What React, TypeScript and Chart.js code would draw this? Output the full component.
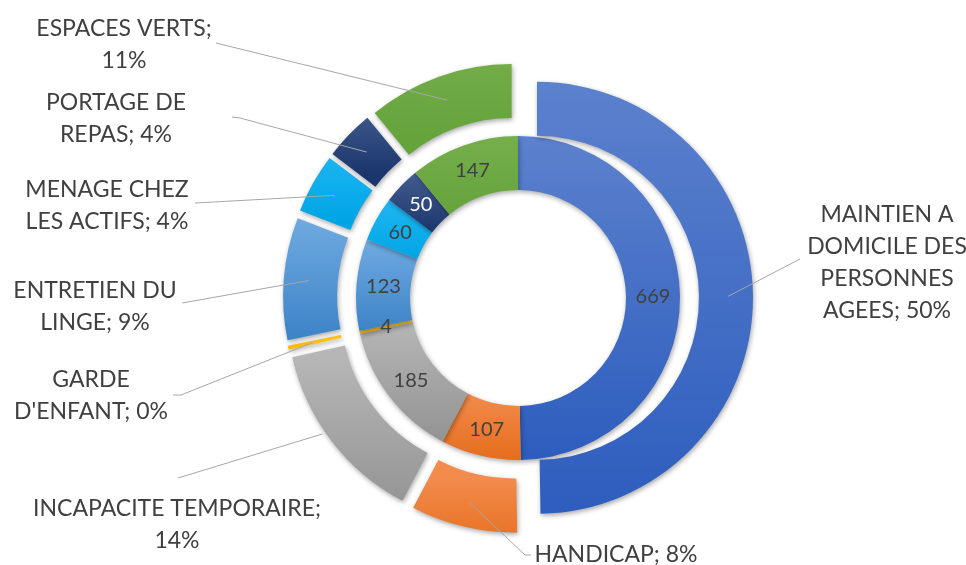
import { useEffect, useRef } from "react";
import { Chart, registerables } from "chart.js";

Chart.register(...registerables);

// ---------- data ----------
const categories = [
  "MAINTIEN A DOMICILE DES PERSONNES AGEES",
  "HANDICAP",
  "INCAPACITE TEMPORAIRE",
  "GARDE D'ENFANT",
  "ENTRETIEN DU LINGE",
  "MENAGE CHEZ LES ACTIFS",
  "PORTAGE DE REPAS",
  "ESPACES VERTS",
];
const values = [669, 107, 185, 4, 123, 60, 50, 147];

// ---------- styles ----------
const colorsTop = ["#5C81CD", "#F28B4C", "#B6B6B6", "#FFC313", "#70ABE1", "#1FB7F2", "#435D90", "#75AF4B"];
const colorsBottom = ["#2D5DBE", "#E66D1C", "#939393", "#F3B700", "#3D83C7", "#00A5E5", "#1B366C", "#65A33B"];
const valueColors = ["#404040", "#404040", "#404040", "#404040", "#404040", "#404040", "#FFFFFF", "#404040"];

const FONT = "Lato";
const TEXT_COLOR = "#404040";
const LEADER_COLOR = "#A6A6A6";
const OUTER_FONT_SIZE = 23;
const INNER_FONT_SIZE = 20;
const LINE_H = 32;
const EXPLODE = 19;
const RADIUS = 216;
const CUTOUT = 0.5;

// label layout (text centre x, first-line centre y, words per line, leader start points)
type LabelLayout = { x: number; y: number; words: number[]; line: number[][]; frac?: number; rad?: number };
const labelLayout: LabelLayout[] = [
  { x: 887, y: 215, words: [2, 2, 1, 2], line: [[800, 259]] },
  { x: 616, y: 555, words: [2], line: [[531, 555], [525, 555]] },
  { x: 177, y: 509, words: [2, 1], line: [[178, 478]], frac: 0.56, rad: 1.06 },
  { x: 91, y: 380, words: [1, 2], line: [[173, 395], [181, 395]] },
  { x: 95, y: 291, words: [2, 2], line: [[182, 303]] },
  { x: 107, y: 190, words: [2, 3], line: [[195, 203]] },
  { x: 116, y: 103, words: [2, 2], line: [[232, 117], [240, 118]] },
  { x: 124, y: 29, words: [2, 1], line: [[216, 43]] },
];

const total = values.reduce((a, b) => a + b, 0);

function sliceGradient(chart: any, datasetIndex: number, index: number) {
  const area = chart.chartArea;
  if (!area) return colorsTop[index];
  const cx = (area.left + area.right) / 2;
  const cy = (area.top + area.bottom) / 2;
  const before = values.slice(0, index).reduce((a, b) => a + b, 0);
  const a0 = -Math.PI / 2 + (2 * Math.PI * before) / total;
  const a1 = a0 + (2 * Math.PI * values[index]) / total;
  const ring = (RADIUS - RADIUS * CUTOUT) / 2;
  const rOut = datasetIndex === 0 ? RADIUS : RADIUS - ring;
  const rIn = rOut - ring;
  const shift = datasetIndex === 0 ? EXPLODE : 0;
  const mid = (a0 + a1) / 2;
  const oy = cy + Math.sin(mid) * shift;
  void cx;
  let ymin = Infinity;
  let ymax = -Infinity;
  for (let k = 0; k <= 60; k++) {
    const a = a0 + ((a1 - a0) * k) / 60;
    for (const r of [rIn, rOut]) {
      const y = oy + Math.sin(a) * r;
      ymin = Math.min(ymin, y);
      ymax = Math.max(ymax, y);
    }
  }
  if (ymax - ymin < 1) ymax = ymin + 1;
  const g = chart.ctx.createLinearGradient(0, ymin, 0, ymax);
  g.addColorStop(0, colorsTop[index]);
  g.addColorStop(1, colorsBottom[index]);
  return g;
}

const explodePlugin = {
  id: "explode",
  beforeDatasetsDraw(chart: any) {
    const ctx = chart.ctx;
    ctx.save();
    ctx.shadowColor = "rgba(0,0,0,0.35)";
    ctx.shadowBlur = 5;
    ctx.shadowOffsetX = 1;
    ctx.shadowOffsetY = 2;
  },
  beforeDatasetDraw(chart: any, args: any) {
    if (args.index !== 0) return;
    const ctx = chart.ctx;
    args.meta.data.forEach((el: any) => {
      const mid = (el.startAngle + el.endAngle) / 2;
      ctx.save();
      ctx.translate(Math.cos(mid) * EXPLODE, Math.sin(mid) * EXPLODE);
      el.draw(ctx);
      ctx.restore();
    });
    return false;
  },
  afterDatasetsDraw(chart: any) {
    chart.ctx.restore();
  },
};

const labelPlugin = {
  id: "sliceLabels",
  afterDraw(chart: any) {
    const ctx = chart.ctx;
    ctx.save();
    ctx.shadowColor = "transparent";
    // outer labels with leader lines
    const outer = chart.getDatasetMeta(0);
    outer.data.forEach((el: any, i: number) => {
      const L = labelLayout[i];
      const frac = L.frac ?? 0.5;
      const rf = L.rad ?? 0.54;
      const mid = (el.startAngle + el.endAngle) / 2;
      const a = el.startAngle + (el.endAngle - el.startAngle) * frac;
      const ox = el.x + Math.cos(mid) * EXPLODE;
      const oy = el.y + Math.sin(mid) * EXPLODE;
      const r = el.innerRadius + (el.outerRadius - el.innerRadius) * rf;
      const ax = ox + Math.cos(a) * r;
      const ay = oy + Math.sin(a) * r;
      ctx.strokeStyle = LEADER_COLOR;
      ctx.lineWidth = 1;
      ctx.beginPath();
      ctx.moveTo(L.line[0][0], L.line[0][1]);
      for (let k = 1; k < L.line.length; k++) ctx.lineTo(L.line[k][0], L.line[k][1]);
      ctx.lineTo(ax, ay);
      ctx.stroke();

      const pct = Math.round((values[i] / total) * 100);
      const words = `${categories[i]}; ${pct}%`.split(" ");
      ctx.fillStyle = TEXT_COLOR;
      ctx.font = `${OUTER_FONT_SIZE}px ${FONT}`;
      ctx.textAlign = "center";
      ctx.textBaseline = "middle";
      let w = 0;
      L.words.forEach((n, li) => {
        const t = words.slice(w, w + n).join(" ");
        w += n;
        ctx.fillText(t, L.x, L.y + li * LINE_H);
      });
    });
    // inner value labels
    const inner = chart.getDatasetMeta(1);
    ctx.font = `${INNER_FONT_SIZE}px ${FONT}`;
    ctx.textAlign = "center";
    ctx.textBaseline = "middle";
    inner.data.forEach((el: any, i: number) => {
      const p = el.getCenterPoint();
      ctx.fillStyle = valueColors[i];
      ctx.fillText(String(values[i]), p.x, p.y);
    });
    ctx.restore();
  },
};

export default function App() {
  const ref = useRef<HTMLCanvasElement | null>(null);
  useEffect(() => {
    if (!ref.current) return;
    const chart = new Chart(ref.current, {
      type: "doughnut",
      data: {
        labels: categories,
        datasets: [
          {
            data: values,
            backgroundColor: (c: any) => sliceGradient(c.chart, 0, c.dataIndex),
            borderWidth: 0,
          },
          {
            data: values,
            backgroundColor: (c: any) => sliceGradient(c.chart, 1, c.dataIndex),
            borderWidth: 0,
          },
        ],
      },
      options: {
        responsive: false,
        animation: false,
        events: [],
        radius: RADIUS,
        cutout: `${CUTOUT * 100}%`,
        layout: { padding: { left: 268, right: 198, top: 48, bottom: 17 } },
        plugins: { legend: { display: false }, tooltip: { enabled: false } },
      } as any,
      plugins: [explodePlugin, labelPlugin],
    });
    return () => chart.destroy();
  }, []);
  return (
    <div style={{ position: "absolute", left: 0, top: 0, width: 966, height: 565, background: "#fff" }}>
      <canvas ref={ref} width={966} height={565} style={{ display: "block" }} />
    </div>
  );
}
